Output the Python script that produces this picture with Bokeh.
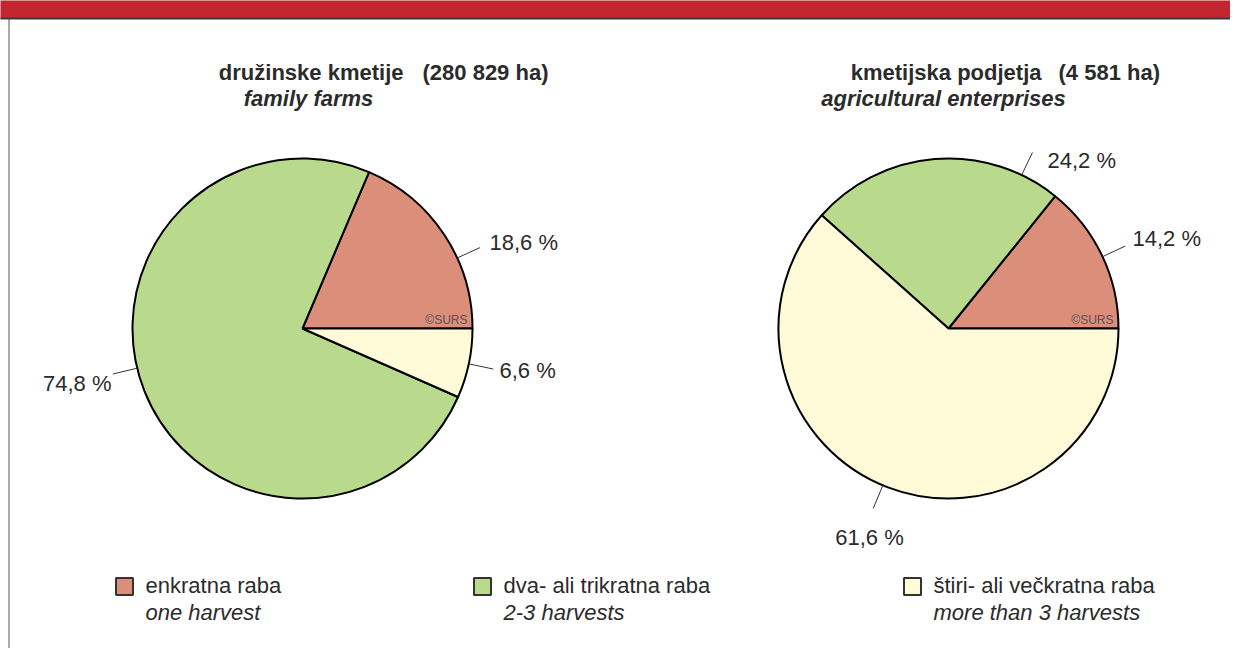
import math
from bokeh.plotting import figure
from bokeh.models import Range1d, ColumnDataSource
from bokeh.core.properties import value
from bokeh.embed import file_html
from bokeh.resources import INLINE

# ---- data ----
categories_sl = ["enkratna raba", "dva- ali trikratna raba", "štiri- ali večkratna raba"]
categories_en = ["one harvest", "2-3 harvests", "more than 3 harvests"]
family_farms = [18.6, 74.8, 6.6]
enterprises = [14.2, 24.2, 61.6]
pie_titles_sl = ["družinske kmetije", "kmetijska podjetja"]
pie_titles_en = ["family farms", "agricultural enterprises"]
pie_areas = ["(280 829 ha)", "(4 581 ha)"]
colors = ["#DB8E79", "#B9D98D", "#FFFAD7"]

FONT = "Liberation Sans"
TXT = "#2b2b2b"
W, H = 1230, 648
PH = 664               # reference height (for flipping y)

def py(ref_y):
    return PH - ref_y

p = figure(width=W, height=H, output_backend="svg", toolbar_location=None,
           x_range=Range1d(0, W), y_range=Range1d(PH - H, PH),
           min_border=0, outline_line_color=None)
p.axis.visible = False
p.grid.visible = False
p.background_fill_color = "white"
p.border_fill_color = "white"

# header band + frame
p.quad(left=-10, right=1300, bottom=py(18), top=py(-10), fill_color="#C3262E", line_color=None)
p.segment(x0=-10, y0=py(18), x1=1300, y1=py(18), line_color="#3a3a3a", line_width=2)
p.segment(x0=8.5, y0=py(18), x1=8.5, y1=py(700), line_color="#555555", line_width=1)

R = 170
pies = [
    dict(vals=family_farms, cx=302, cy=328,
         leader=[24.5, 193.5, -12.0],
         labels=[(489, 242, "left"), (111, 383, "right"), (499, 370, "left")],
         t_right=403, t_left=422, t_center=308, surs_x=467),
    dict(vals=enterprises, cx=948, cy=328,
         leader=[25.0, 64.5, 247.3],
         labels=[(1132, 238, "left"), (1047, 160, "left"), (869, 537, "center")],
         t_right=1041, t_left=1058, t_center=943, surs_x=1113),
]

for i, pie in enumerate(pies):
    vals = pie["vals"]
    tot = sum(vals)
    starts, ends = [], []
    acc = 0.0
    for v in vals:
        starts.append(acc / tot * 2 * math.pi)
        acc += v
        ends.append(acc / tot * 2 * math.pi)
    src = ColumnDataSource(dict(start=starts, end=ends, color=colors))
    cx, cy = pie["cx"], py(pie["cy"])
    p.wedge(x=cx, y=cy, radius=R, start_angle="start", end_angle="end",
            direction="anticlock", fill_color="color", line_color="black",
            line_width=2, source=src)
    # copyright
    p.text(x=[pie["surs_x"]], y=[py(319)], text=["©SURS"], text_align="right",
           text_baseline="middle", text_font=value(FONT), text_font_size="12px",
           text_color="#555555")
    # leaders and labels
    for k, v in enumerate(vals):
        a = math.radians(pie["leader"][k])
        p.segment(x0=cx + R * math.cos(a), y0=cy + R * math.sin(a),
                  x1=cx + (R + 25) * math.cos(a), y1=cy + (R + 25) * math.sin(a),
                  line_color="#333333", line_width=1)
        lx, ly, al = pie["labels"][k]
        p.text(x=[lx], y=[py(ly)], text=[f"{v:.1f}".replace(".", ",") + " %"],
               text_align=al, text_baseline="middle", text_font=value(FONT),
               text_font_size="22px", text_color=TXT)
    # titles
    p.text(x=[pie["t_right"]], y=[py(72)], text=[pie_titles_sl[i]], text_align="right",
           text_baseline="middle", text_font=value(FONT), text_font_size="22px",
           text_font_style="bold", text_color=TXT)
    p.text(x=[pie["t_left"]], y=[py(72)], text=[pie_areas[i]], text_align="left",
           text_baseline="middle", text_font=value(FONT), text_font_size="22px",
           text_font_style="bold", text_color=TXT)
    p.text(x=[pie["t_center"]], y=[py(98)], text=[pie_titles_en[i]], text_align="center",
           text_baseline="middle", text_font=value(FONT), text_font_size="22px",
           text_font_style="bold italic", text_color=TXT)

# legend
leg_x = [124, 482, 912]
for k in range(3):
    p.rect(x=leg_x[k], y=py(586), width=17, height=17, fill_color=colors[k],
           line_color="#333333", line_width=2)
    p.text(x=[leg_x[k] + 21], y=[py(585)], text=[categories_sl[k]], text_align="left",
           text_baseline="middle", text_font=value(FONT), text_font_size="22px",
           text_color=TXT)
    p.text(x=[leg_x[k] + 21], y=[py(612)], text=[categories_en[k]], text_align="left",
           text_baseline="middle", text_font=value(FONT), text_font_size="22px",
           text_font_style="italic", text_color=TXT)

open("out.html", "w").write(file_html(p, INLINE))
